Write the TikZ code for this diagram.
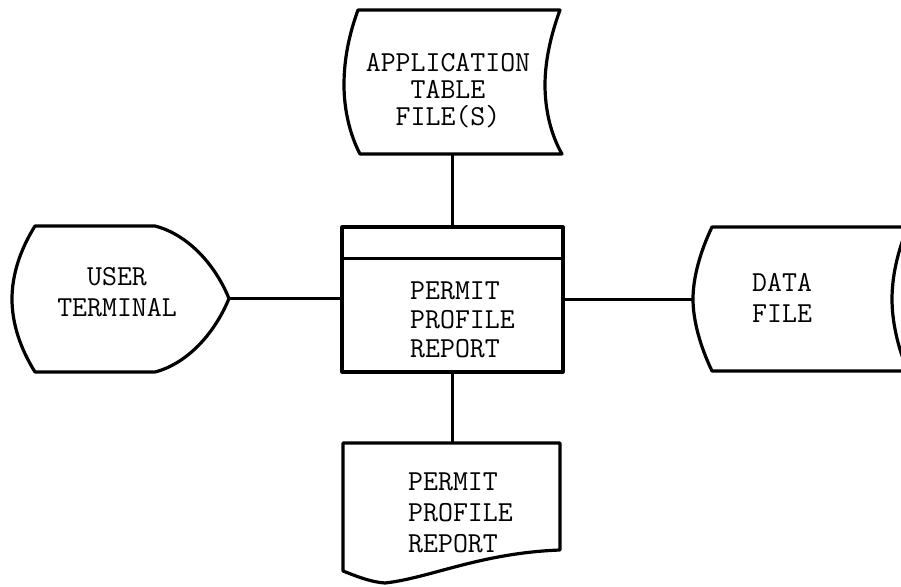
\documentclass[tikz,border=0pt]{standalone}
\begin{document}
\begin{tikzpicture}[x=1pt,y=-1pt,line join=round,
  outline/.style={draw=black,line width=3.2pt},
  link/.style={draw=black,line width=3pt},
  lbl/.style={inner sep=0pt,text=black,font=\ttfamily},
  lblA/.style={lbl,font=\fontsize{29}{27}\selectfont\ttfamily},
  lblB/.style={lbl,font=\fontsize{29}{29}\selectfont\ttfamily},
  lblC/.style={lbl,font=\fontsize{29}{31}\selectfont\ttfamily}]
\clip (0,0) rectangle (901,586);
\fill[white] (0,0) rectangle (901,586);

% stored data: application table files
\draw[outline] (358,10) -- (560,10)
  .. controls (549,40) and (545,65) .. (545,85)
  .. controls (545,110) and (551,135) .. (562,154)
  -- (360,154)
  .. controls (350,135) and (344,110) .. (344,85)
  .. controls (344,65) and (347,40) .. cycle;
\coordinate (tapeB) at (452.5,154);
\node[lblA,align=center] (tapetxt) at (448,91) {APPLICATION\\TABLE\\FILE(S)};

% predefined process box
\node[outline,minimum width=221pt,minimum height=145pt,inner sep=0pt] (box) at (452.5,299.5) {};
\draw[outline] ([yshift=-33pt]box.north west) -- ([yshift=-33pt]box.north east);
\node[lblB,align=left,anchor=west] (boxtxt) at (410,320) {PERMIT\\PROFILE\\REPORT};

% display terminal
\draw[outline] (35,226) -- (155,226)
  .. controls (186,234) and (214,262) .. (229,298.5)
  .. controls (214,335) and (186,364) .. (155,372)
  -- (35,372)
  .. controls (20,348) and (12,323) .. (12,299)
  .. controls (12,275) and (20,250) .. cycle;
\coordinate (termTip) at (229,298.5);
\node[lblC,align=center] (termtxt) at (117,292) {USER\\TERMINAL};

% direct access storage: data file
\draw[outline] (910,227) -- (712,227)
  .. controls (700,252) and (693,278) .. (693,299)
  .. controls (693,320) and (700,346) .. (712,371)
  -- (910,371);
\draw[outline] (908,227)
  .. controls (897,252) and (892,278) .. (892,299)
  .. controls (892,320) and (897,346) .. (908,371);
\coordinate (diskW) at (693,299);
\node[lblC,align=left,anchor=west] (disktxt) at (752,297.5) {DATA\\FILE};

% document: printed report
\draw[outline] (343,443) -- (560,443) -- (560,550)
  .. controls (480,553) and (430,578) .. (385,583)
  .. controls (370,582) and (356,576) .. (343,571) -- cycle;
\coordinate (docT) at (452.5,443);
\node[lblC,align=left,anchor=west] (doctxt) at (408,513) {PERMIT\\PROFILE\\REPORT};

% connectors
\draw[link] (tapeB) -- (box.north);
\draw[link] (termTip) -- (termTip -| box.west);
\draw[link] (box.east) -- (box.east -| diskW);
\draw[link] (box.south) -- (docT);
\end{tikzpicture}
\end{document}
